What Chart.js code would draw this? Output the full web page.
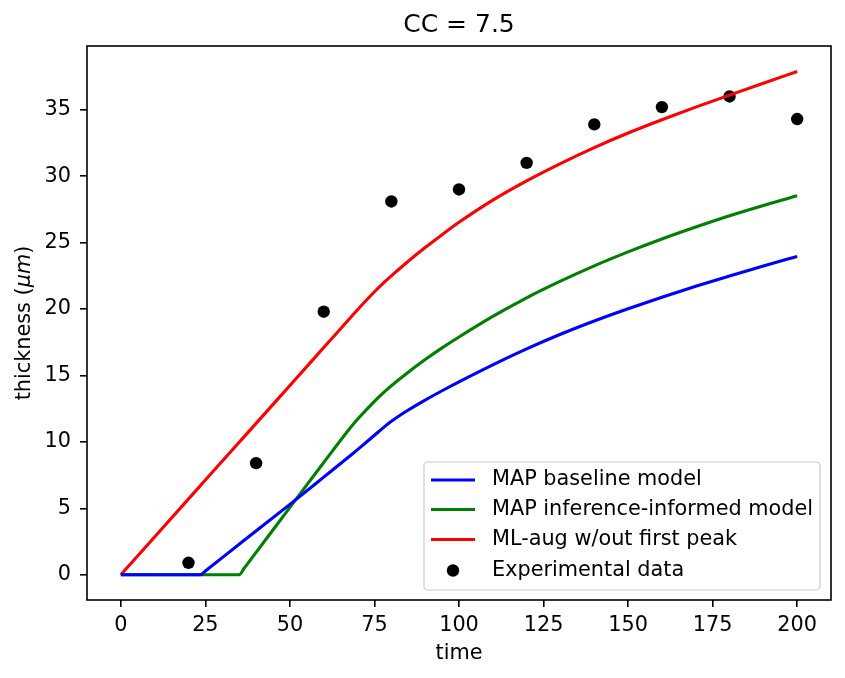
<!DOCTYPE html>
<html>
<head>
<meta charset="utf-8">
<script src="https://cdn.jsdelivr.net/npm/chart.js@4.4.1/dist/chart.umd.min.js"></script>
<style>
  html, body { margin: 0; padding: 0; background: #fff; }
  #wrap { width: 845px; height: 678px; }
</style>
</head>
<body>
<div id="wrap"><canvas id="chart" width="845" height="678"></canvas></div>
<script>
// shared time grid for the model curves
const time = [0, 23.6, 25, 35, 36.5, 50, 60, 68, 70, 75, 78, 80, 85, 90, 95, 100, 110, 120, 130, 140, 150, 160, 170, 180, 190, 200];
const baseline = [0, 0, 0.28, 2.3, 2.6, 5.3, 7.35, 9.0, 9.42, 10.5, 11.15, 11.55, 12.4, 13.15, 13.85, 14.52, 15.8, 17.0, 18.1, 19.1, 20.02, 20.89, 21.71, 22.49, 23.24, 23.96];
const informed = [0, 0, 0, 0, 0.5, 5.07, 8.45, 11.1, 11.7, 13.05, 13.78, 14.23, 15.25, 16.2, 17.08, 17.9, 19.45, 20.85, 22.1, 23.25, 24.3, 25.27, 26.17, 27.02, 27.8, 28.52];
const mlAug = [0, 6.73, 7.13, 9.98, 10.4, 14.25, 17.1, 19.38, 19.95, 21.3, 22.05, 22.5, 23.6, 24.63, 25.6, 26.53, 28.2, 29.65, 30.95, 32.15, 33.25, 34.25, 35.2, 36.1, 37.0, 37.88];

// experimental measurements
const expTime = [20, 40, 60, 80, 100, 120, 140, 160, 180, 200];
const expThickness = [0.9, 8.4, 19.8, 28.1, 29.0, 31.0, 33.9, 35.2, 36.0, 34.3];

const xTicks = [0, 25, 50, 75, 100, 125, 150, 175, 200];
const yTicks = [0, 5, 10, 15, 20, 25, 30, 35];

const FONT = 'DejaVu Sans';
const FS = 20.8;

const pts = (xs, ys) => xs.map((x, i) => ({ x: x, y: ys[i] }));

// frame, title, y label with italic unit and the in-plot legend
const decorations = {
  id: 'decorations',
  afterDraw(chart) {
    const { ctx, chartArea: a } = chart;
    ctx.save();
    ctx.strokeStyle = '#000';
    ctx.lineWidth = 1.6;
    ctx.strokeRect(a.left, a.top, a.right - a.left, a.bottom - a.top);

    ctx.fillStyle = '#000';
    ctx.font = '25px "' + FONT + '"';
    ctx.textAlign = 'center';
    ctx.textBaseline = 'middle';
    ctx.fillText('CC = 7.5', (a.left + a.right) / 2, 25);

    // y axis label: "thickness (" + italic "μm" + ")"
    const parts = [['thickness (', ''], ['μm', 'italic '], [')', '']];
    let total = 0;
    parts.forEach(p => { ctx.font = p[1] + FS + 'px "' + FONT + '"'; p.push(ctx.measureText(p[0]).width); total += p[2]; });
    ctx.save();
    ctx.translate(25, (a.top + a.bottom) / 2);
    ctx.rotate(-Math.PI / 2);
    ctx.textAlign = 'left';
    let cx = -total / 2;
    parts.forEach(p => { ctx.font = p[1] + FS + 'px "' + FONT + '"'; ctx.fillText(p[0], cx, 0); cx += p[2]; });
    ctx.restore();

    // legend box
    const bx = 424, by = 462, bw = 396, bh = 128, r = 4;
    ctx.beginPath();
    ctx.roundRect(bx, by, bw, bh, r);
    ctx.fillStyle = 'rgba(255,255,255,0.8)';
    ctx.fill();
    ctx.strokeStyle = '#cccccc';
    ctx.lineWidth = 1.2;
    ctx.stroke();

    const rows = [480, 509.5, 539.5, 570.5];
    ctx.font = FS + 'px "' + FONT + '"';
    ctx.textAlign = 'left';
    chart.data.datasets.forEach((ds, i) => {
      const y = rows[i];
      if (ds.showLine === false) {
        ctx.beginPath();
        ctx.arc(453, y, 6.2, 0, Math.PI * 2);
        ctx.fillStyle = ds.backgroundColor;
        ctx.fill();
      } else {
        ctx.beginPath();
        ctx.moveTo(431, y);
        ctx.lineTo(475, y);
        ctx.strokeStyle = ds.borderColor;
        ctx.lineWidth = 3.1;
        ctx.stroke();
      }
      ctx.fillStyle = '#000';
      ctx.fillText(ds.label, 492, y);
    });
    ctx.restore();
  }
};

const curve = { borderWidth: 3.1, pointRadius: 0, cubicInterpolationMode: 'monotone' };

new Chart(document.getElementById('chart'), {
  type: 'line',
  data: {
    datasets: [
      Object.assign({ label: 'MAP baseline model', data: pts(time, baseline), borderColor: '#0000ff', backgroundColor: '#0000ff' }, curve),
      Object.assign({ label: 'MAP inference-informed model', data: pts(time, informed), borderColor: '#008000', backgroundColor: '#008000' }, curve),
      Object.assign({ label: 'ML-aug w/out first peak', data: pts(time, mlAug), borderColor: '#ff0000', backgroundColor: '#ff0000' }, curve),
      { label: 'Experimental data', data: pts(expTime, expThickness), showLine: false, borderColor: '#000', backgroundColor: '#000', pointRadius: 6.2, pointBorderWidth: 0 }
    ]
  },
  options: {
    responsive: false,
    animation: false,
    devicePixelRatio: 1,
    layout: { padding: { top: 46, right: 14, left: 0, bottom: 0 } },
    plugins: {
      legend: { display: false },
      title: { display: false },
      tooltip: { enabled: false }
    },
    scales: {
      x: {
        type: 'linear',
        min: -10,
        max: 210,
        afterBuildTicks: s => { s.ticks = xTicks.map(v => ({ value: v })); },
        afterFit: s => { s.height = 78; },
        grid: { display: true, drawOnChartArea: false, drawTicks: true, tickLength: 7, color: '#000', lineWidth: 1.6 },
        border: { display: false },
        ticks: { color: '#000', padding: 6, maxRotation: 0, font: { family: FONT, size: FS } },
        title: { display: true, text: 'time', color: '#000', padding: { top: 0, bottom: 12 }, font: { family: FONT, size: FS } }
      },
      y: {
        type: 'linear',
        min: -1.9,
        max: 39.8,
        afterBuildTicks: s => { s.ticks = yTicks.map(v => ({ value: v })); },
        afterFit: s => { s.width = 87; },
        grid: { display: true, drawOnChartArea: false, drawTicks: true, tickLength: 7, color: '#000', lineWidth: 1.6 },
        border: { display: false },
        ticks: { color: '#000', padding: 9, font: { family: FONT, size: FS } },
        title: { display: false }
      }
    }
  },
  plugins: [decorations]
});
</script>
</body>
</html>
